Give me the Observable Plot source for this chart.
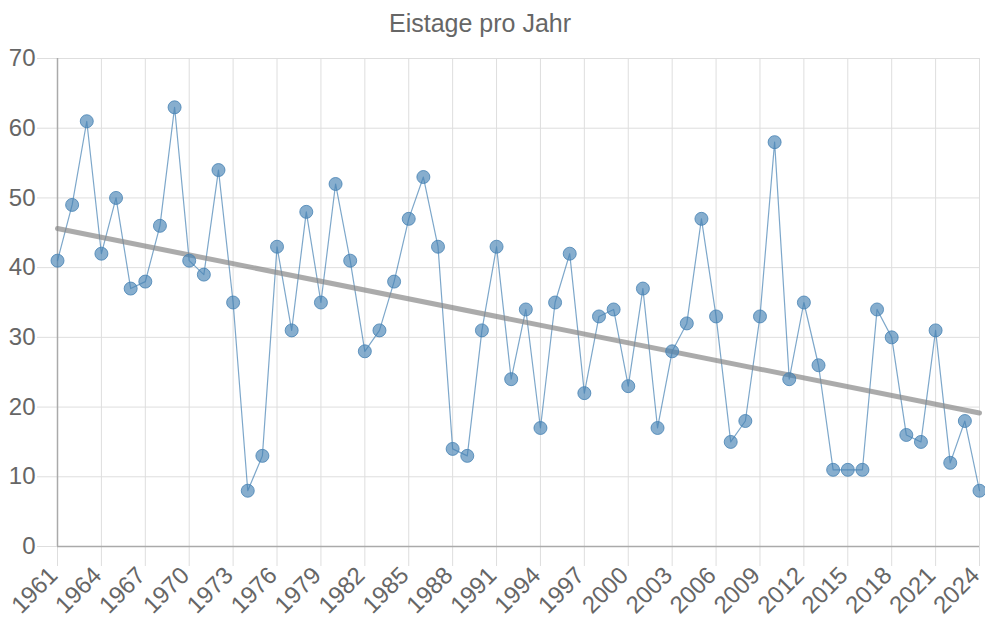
<!DOCTYPE html>
<html>
<head>
<meta charset="utf-8">
<script src="https://cdn.jsdelivr.net/npm/d3@7"></script>
<script src="https://cdn.jsdelivr.net/npm/@observablehq/plot@0.6"></script>
<style>
  html, body { margin: 0; padding: 0; background: #fff; }
  #title { height: 37px; padding-top: 3px; padding-right: 25px; width: 960px; text-align: center; font: 25px "Liberation Sans", Arial, sans-serif; color: #666; line-height: 40px; }
  #chart svg { display: block; }
</style>
</head>
<body>
<div id="title">Eistage pro Jahr</div>
<div id="chart"></div>
<script>
const years = [1961,1962,1963,1964,1965,1966,1967,1968,1969,1970,
  1971,1972,1973,1974,1975,1976,1977,1978,1979,1980,
  1981,1982,1983,1984,1985,1986,1987,1988,1989,1990,
  1991,1992,1993,1994,1995,1996,1997,1998,1999,2000,
  2001,2002,2003,2004,2005,2006,2007,2008,2009,2010,
  2011,2012,2013,2014,2015,2016,2017,2018,2019,2020,
  2021,2022,2023,2024];
const eistage = [41,49,61,42,50,37,38,46,63,41,
  39,54,35,8,13,43,31,48,35,52,
  41,28,31,38,47,53,43,14,13,31,
  43,24,34,17,35,42,22,33,34,23,
  37,17,28,32,47,33,15,18,33,58,
  24,35,26,11,11,11,34,30,16,15,
  31,12,18,8];
const xTicks = [1961,1964,1967,1970,1973,1976,1979,1982,1985,1988,1991,1994,1997,2000,2003,2006,2009,2012,2015,2018,2021,2024];
const yTicks = [0,10,20,30,40,50,60,70];

const data = years.map((y, i) => ({jahr: y, wert: eistage[i]}));
const font = '"Liberation Sans", Arial, sans-serif';

const chart = Plot.plot({
  width: 985,
  height: 579,
  marginTop: 18,
  marginBottom: 73,
  marginLeft: 57,
  marginRight: 6,
  style: {fontFamily: font, fontSize: "24px", color: "#666", background: "#fff", overflow: "visible"},
  x: {domain: [1961, 2024], ticks: xTicks, tickFormat: "d"},
  y: {domain: [0, 70], ticks: yTicks},
  marks: [
    Plot.gridY(yTicks, {stroke: "#dedede", strokeOpacity: 1}),
    Plot.gridX(xTicks, {stroke: "#dedede", strokeOpacity: 1}),
    Plot.axisY(yTicks, {tickSize: 20, tickPadding: 2, stroke: "#dedede", fill: "#666", fontSize: 24, label: null}),
    Plot.axisX(xTicks, {tickSize: 20, tickFormat: () => "", stroke: "#dedede", label: null}),
    Plot.axisX(xTicks, {tickSize: 0, tickPadding: 25, tickRotate: -45, tickFormat: "d", dx: -4, fill: "#666", fontSize: 24, label: null}),
    Plot.ruleY([0], {stroke: "#aaa", strokeWidth: 1.5}),
    Plot.ruleX([1961], {stroke: "#aaa", strokeWidth: 1.5}),
    Plot.line(data, {x: "jahr", y: "wert", stroke: "steelblue", strokeOpacity: 0.7, strokeWidth: 1.2}),
    Plot.linearRegressionY(data, {x: "jahr", y: "wert", stroke: "#888", strokeOpacity: 0.7, strokeWidth: 5, ci: 0}),
    Plot.dot(data, {x: "jahr", y: "wert", r: 6.5, fill: "steelblue", fillOpacity: 0.65, stroke: "steelblue", strokeOpacity: 0.8, strokeWidth: 1})
  ]
});
document.getElementById("chart").appendChild(chart);
</script>
</body>
</html>
